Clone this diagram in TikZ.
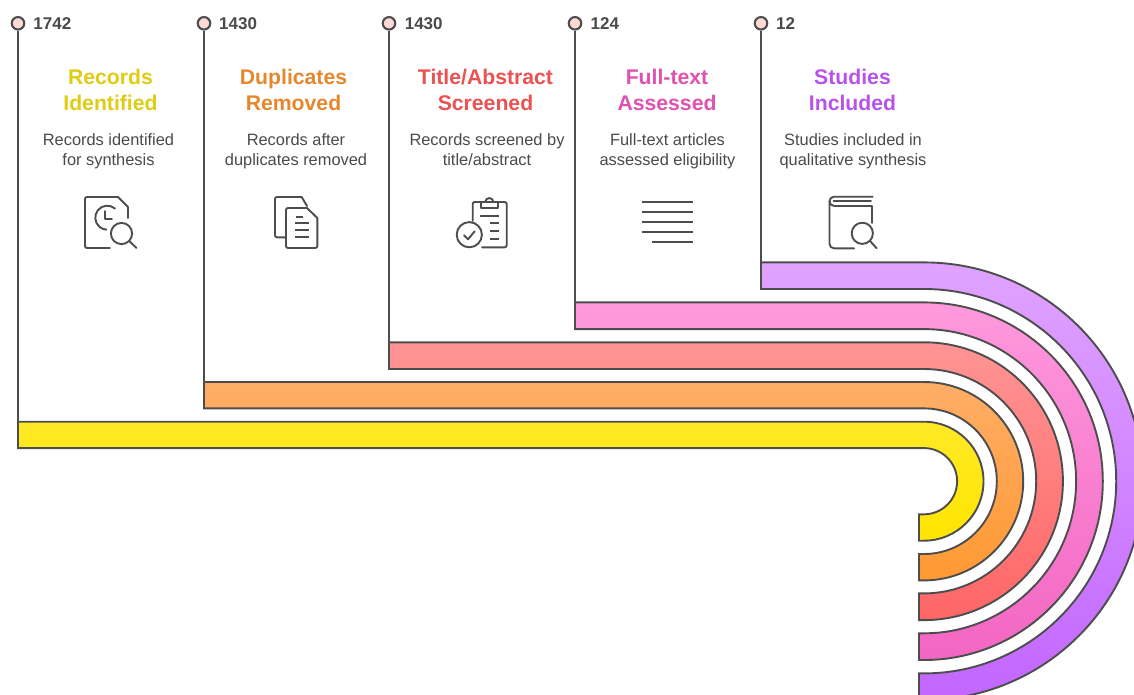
\documentclass[tikz,border=0pt]{standalone}
\usepackage{fontspec}
\setmainfont{Liberation Sans}
\usetikzlibrary{calc}
\definecolor{ink}{HTML}{4D4D4D}
\definecolor{txt}{HTML}{4A4A4A}
\definecolor{dotfill}{HTML}{FFD9D4}
\definecolor{pu1}{HTML}{E0A3FF}
\definecolor{pu2}{HTML}{C266FF}
\definecolor{pi1}{HTML}{FF99DD}
\definecolor{pi2}{HTML}{F266C2}
\definecolor{re1}{HTML}{FF9494}
\definecolor{re2}{HTML}{FF6666}
\definecolor{or1}{HTML}{FFAD66}
\definecolor{or2}{HTML}{FF9933}
\definecolor{ye1}{HTML}{FFE926}
\definecolor{ye2}{HTML}{FFE500}
\definecolor{tye}{HTML}{E0CC14}
\definecolor{tor}{HTML}{E6872E}
\definecolor{tre}{HTML}{EB5252}
\definecolor{tpi}{HTML}{E052B1}
\definecolor{tpu}{HTML}{B852EB}
\tikzset{
  x=1pt,y=-1pt,
  band/.style={draw=ink,line width=1.9pt,line join=miter},
  stem/.style={draw=ink,line width=2.4pt},
  dot/.style={circle,draw=ink,line width=2.1pt,fill=dotfill,minimum size=12.5pt,inner sep=0pt},
  num/.style={anchor=west,inner sep=0pt,text=txt,font=\fontsize{17}{18}\selectfont\bfseries},
  ttl/.style={align=center,text height=43.6pt,text depth=5pt,font=\fontsize{21.2}{26.6}\selectfont\bfseries},
  dsc/.style={align=center,text=txt,text height=34pt,text depth=5pt,font=\fontsize{16.4}{19.6}\selectfont},
  ico/.style={draw=ink,line width=1.9pt,line cap=round,line join=round},
  ico2/.style={draw=ink,line width=1.9pt,line cap=butt}
}
\newcommand{\bandpath}[6]{% xleft, r out, r in, top col, bottom col, stem end
  \path[band,top color=#4,bottom color=#5]
    (#1,481.2-#2) -- (924,481.2-#2) arc[start angle=-90,end angle=90,radius=#2]
    -- (919,481.2+#2) -- (919,481.2+#3) -- (924,481.2+#3)
    arc[start angle=90,end angle=-90,radius=#3]
    -- (#1,481.2-#3) -- cycle;
  \coordinate (#6) at (#1,481.2-#3);
}
\begin{document}
\begin{tikzpicture}
\clip (0,0) rectangle (1134,694);
\fill[white] (0,0) rectangle (1134,694);
% bands
\bandpath{761}{218.8}{192.2}{pu1}{pu2}{b5}
\bandpath{575}{178.8}{152.1}{pi1}{pi2}{b4}
\bandpath{389}{138.9}{112.2}{re1}{re2}{b3}
\bandpath{204}{99.2}{72.8}{or1}{or2}{b2}
\bandpath{18}{59.5}{33.1}{ye1}{ye2}{b1}
% markers
\node[dot] (c1) at (18,23.3) {};
\node[dot] (c2) at (204,23.3) {};
\node[dot] (c3) at (389,23.3) {};
\node[dot] (c4) at (575,23.3) {};
\node[dot] (c5) at (761,23.3) {};
\foreach \i in {1,...,5} \draw[stem] (c\i.south) -- (b\i);
\node[num] (n1) at (33.2,23.5) {1742};
\node[num] (n2) at (219,23.5) {1430};
\node[num] (n3) at (404.6,23.5) {1430};
\node[num] (n4) at (590.4,23.5) {124};
\node[num] (n5) at (776,23.5) {12};
% titles
\node[ttl,text=tye] (t1) at (110.5,91.4) {Records\\Identified};
\node[ttl,text=tor] (t2) at (293.5,91.4) {Duplicates\\Removed};
\node[ttl,text=tre] (t3) at (485.5,91.4) {Title/Abstract\\Screened};
\node[ttl,text=tpi] (t4) at (667,91.4) {Full-text\\Assessed};
\node[ttl,text=tpu] (t5) at (852.5,91.4) {Studies\\Included};
% descriptions
\node[dsc] (d1) at (108.5,150.5) {Records identified\\for synthesis};
\node[dsc] (d2) at (296,150.5) {Records after\\duplicates removed};
\node[dsc] (d3) at (487,150.5) {Records screened by\\title/abstract};
\node[dsc] (d4) at (667.5,150.5) {Full-text articles\\assessed eligibility};
\node[dsc] (d5) at (853,150.5) {Studies included in\\qualitative synthesis};
% icon 1
\draw[ico] (110,248) -- (87,248) arc[start angle=90,end angle=180,radius=2] -- (85,199)
  arc[start angle=180,end angle=270,radius=2] -- (118,197) -- (128,207) -- (128,218);
\draw[ico] (115,208.5) arc[start angle=-50,end angle=-265,radius=12];
\draw[ico] (105,211) -- (105,219) -- (112,219);
\draw[ico] (121.5,233.5) circle[radius=10.6];
\draw[ico] (129.2,241) -- (136.5,248);
% icon 2
\draw[ico] (285,237.3) -- (277,237.3) arc[start angle=90,end angle=180,radius=2] -- (275,199)
  arc[start angle=180,end angle=270,radius=2] -- (301.7,197) -- (307,206);
\draw[ico] (288,208) -- (307,208) -- (317.3,218) -- (317.3,246)
  arc[start angle=0,end angle=90,radius=2] -- (288,248)
  arc[start angle=90,end angle=180,radius=2] -- (286,210)
  arc[start angle=180,end angle=270,radius=2] -- cycle;
\draw[ico2] (296,216.7) -- (303,216.7);
\draw[ico2] (295,223.3) -- (309,223.3);
\draw[ico2] (295,230) -- (309,230);
\draw[ico2] (295,236.7) -- (309,236.7);
% icon 3
\draw[ico] (472.7,221) -- (472.7,204) arc[start angle=180,end angle=270,radius=2] -- (504.7,202)
  arc[start angle=-90,end angle=0,radius=2] -- (506.7,245.3)
  arc[start angle=0,end angle=90,radius=2] -- (482,247.3);
\draw[ico] (480.7,202) -- (480.7,208.3) -- (498.3,208.3) -- (498.3,202);
\draw[ico] (485.3,202) arc[start angle=180,end angle=360,radius=4];
\draw[ico2] (480,215.7) -- (499.3,215.7);
\draw[ico2] (490,223) -- (499.3,223);
\draw[ico2] (490,230.7) -- (499.3,230.7);
\draw[ico2] (490,238.7) -- (499.3,238.7);
\draw[ico] (469.3,234.7) circle[radius=12.6];
\draw[ico] (464,235.3) -- (468,239.3) -- (474.7,231.3);
% icon 4
\draw[ico2,line width=2.1pt] (641.7,202.3) -- (693.3,202.3);
\draw[ico2,line width=2.1pt] (641.7,212.2) -- (693.3,212.2);
\draw[ico2,line width=2.1pt] (641.7,222.3) -- (693.3,222.3);
\draw[ico2,line width=2.1pt] (641.7,232.3) -- (693.3,232.3);
\draw[ico2,line width=2.1pt] (651.7,242.3) -- (693.3,242.3);
% icon 5
\draw[ico] (872.7,196.7) -- (834,196.7) arc[start angle=-90,end angle=-180,radius=4.5] -- (829.5,243.8)
  arc[start angle=180,end angle=90,radius=4.5] -- (854,248.3);
\draw[ico] (829.5,201.2) arc[start angle=180,end angle=90,radius=4.8] -- (872,206) -- (872,223);
\draw[ico] (833.5,201.3) -- (871,201.3);
\draw[ico] (862.3,233.3) circle[radius=10.6];
\draw[ico] (870,241) -- (876.7,248.3);
\end{tikzpicture}
\end{document}
